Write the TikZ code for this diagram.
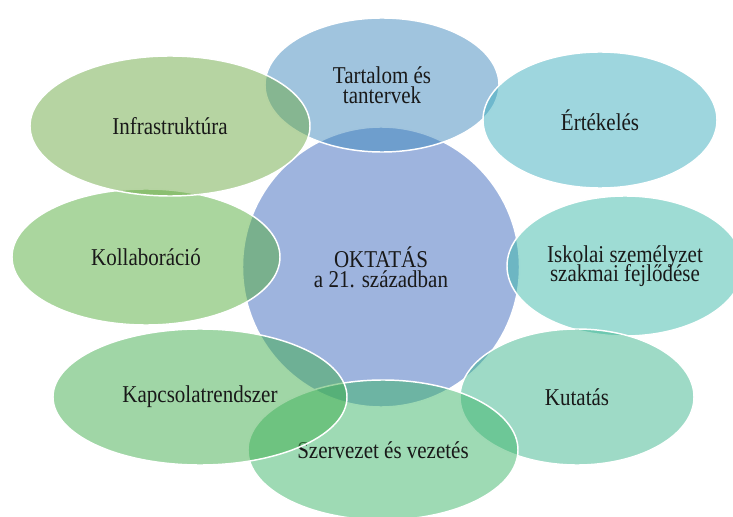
\documentclass[tikz,border=0pt]{standalone}
\usepackage{fontspec}
\setmainfont{Liberation Serif}
\usepackage{graphicx}
\usetikzlibrary{shapes.geometric}
\newcommand\lbl[1]{\scalebox{1}[1.15]{\vbox{\fontsize{15.75pt}{12.8pt}\selectfont\lineskiplimit=-100pt\halign{\hfil##\hfil\cr#1\crcr}}}}
\definecolor{cCen}{RGB}{61,105,189}
\definecolor{cTar}{RGB}{65,137,189}
\definecolor{cErt}{RGB}{61,173,189}
\definecolor{cIsk}{RGB}{61,185,169}
\definecolor{cKut}{RGB}{61,181,141}
\definecolor{cSze}{RGB}{61,181,105}
\definecolor{cKap}{RGB}{65,173,77}
\definecolor{cKol}{RGB}{85,173,61}
\definecolor{cInf}{RGB}{109,169,69}
\definecolor{txt}{RGB}{25,25,25}
\begin{document}
\begin{tikzpicture}[x=0.75pt,y=-0.75pt,
  bub/.style={ellipse, draw=white, line width=1.1pt, fill opacity=0.5,
    text opacity=1, draw opacity=1, inner sep=0pt, text=txt}]
\useasboundingbox (0,0) rectangle (733,517);
\clip (0,0) rectangle (733,517);
\node[bub, fill=cCen, minimum width=207.75pt, minimum height=210pt] (cen) at (381,267) {\lbl{OKTATÁS\cr a 21. században}};
\node[bub, fill=cTar, minimum width=175.5pt, minimum height=100.5pt] (tar) at (382,85) {\lbl{Tartalom és\cr tantervek}};
\node[bub, fill=cErt, minimum width=175.5pt, minimum height=102pt] (ert) at (600,120) {\lbl{Értékelés}};
\node[bub, fill=cIsk, minimum width=177pt, minimum height=105pt] (isk) at (625,266) {\lbl{Iskolai személyzet\cr szakmai fejlődése}};
\node[bub, fill=cKut, minimum width=175.5pt, minimum height=102pt] (kut) at (577,397) {\lbl{Kutatás}};
\node[bub, fill=cSze, minimum width=202.5pt, minimum height=105pt] (sze) at (383,450) {\lbl{Szervezet és vezetés}};
\node[bub, fill=cKap, minimum width=220.5pt, minimum height=102pt] (kap) at (200,397) {\lbl{Kapcsolatrendszer}};
\node[bub, fill=cKol, minimum width=201pt, minimum height=102pt] (kol) at (146,257) {\lbl{Kollaboráció}};
\node[bub, fill=cInf, minimum width=210pt, minimum height=105pt] (inf) at (170,126) {\lbl{Infrastruktúra}};
\end{tikzpicture}
\end{document}
